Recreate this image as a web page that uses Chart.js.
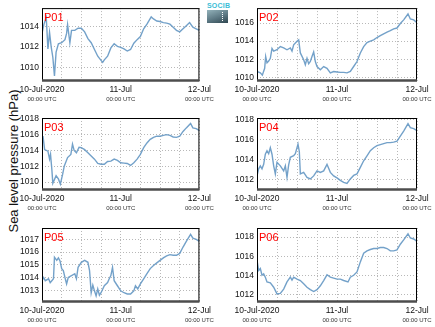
<!DOCTYPE html>
<html>
<head>
<meta charset="utf-8">
<script src="https://cdn.jsdelivr.net/npm/chart.js@4.4.0/dist/chart.umd.min.js"></script>
<style>
  body { margin: 0; background: #fff; }
  #wrap { position: relative; width: 435px; height: 327px; overflow: hidden; font-family: "Liberation Sans", Arial, sans-serif; }
  #wrap canvas { position: absolute; }
  #ylabel { position: absolute; left: 13px; top: 161px; transform: translate(-50%, -50%) rotate(-90deg); font-size: 13px; white-space: nowrap; color: #111; }
  #logo { position: absolute; left: 207px; top: 2px; width: 22px; }
  #logo .brand { font-size: 7px; line-height: 7px; color: #3bbdd6; letter-spacing: 0.2px; font-weight: bold; }
  #logo .badge { position: relative; margin-top: 1px; width: 21px; height: 13px; background: linear-gradient(160deg, #93b2ba 0%, #5c7883 55%, #2f4650 100%); }
  #logo .badge span { position: absolute; left: 15px; top: 2px; height: 9px; border-left: 1px dotted #fff; }
</style>
</head>
<body>
<div id="wrap">
  <div id="ylabel">Sea level pressure (hPa)</div>
  <div id="logo"><div class="brand">SOCIB</div><div class="badge"><span></span></div></div>
</div>
<script>
// hours since 10-Jul-2020 00:00 UTC, sea level pressure (hPa)
const p01 = [[0,1013.3],[0.6,1014.2],[1.3,1014.85],[1.8,1011.8],[2.3,1013.4],[2.8,1012.0],[3.3,1011.0],[3.8,1009.2],[4.3,1011.5],[5,1012.3],[6,1012.4],[7,1012.7],[7.5,1013.3],[7.8,1014.15],[8.5,1012.4],[9,1013.6],[10,1013.6],[11,1013.8],[12,1013.8],[13,1013.45],[14,1012.8],[15,1012.4],[16,1011.75],[17,1011.1],[18,1010.7],[18.5,1010.5],[19,1010.75],[20,1011.1],[21,1011.9],[22,1012.3],[23,1012.05],[24,1011.95],[25,1011.8],[26,1011.6],[27,1011.75],[28,1012.35],[29,1012.7],[30,1013.0],[31,1013.75],[32,1014.2],[33.3,1014.9],[34,1014.7],[35,1014.5],[36,1014.45],[37,1014.35],[38,1014.3],[39,1014.2],[40,1013.9],[41,1013.6],[42,1013.45],[43,1013.75],[44,1014.05],[45,1014.35],[46,1013.9],[47,1013.75],[48,1013.6]];
const p02 = [[0,1010.65],[1,1010.5],[1.6,1010.25],[2.3,1011.0],[2.6,1012.3],[3,1011.6],[3.5,1011.8],[4,1012.1],[4.5,1013.2],[5,1012.9],[6,1013.05],[7,1013.4],[8,1013.25],[9,1013.05],[10,1013.25],[10.5,1012.9],[11,1013.6],[12,1014.0],[12.5,1014.15],[13,1012.7],[14,1011.95],[14.5,1011.4],[15,1012.1],[15.5,1011.5],[16,1011.75],[16.5,1012.3],[17,1012.8],[17.5,1011.75],[18,1011.2],[19,1010.85],[20,1011.2],[21,1011.0],[22,1010.5],[23,1010.65],[24,1010.6],[25,1010.55],[26,1010.55],[27,1010.5],[28,1010.65],[29,1011.2],[30,1011.75],[31,1012.7],[32,1013.4],[33,1013.85],[34,1014.0],[35,1014.15],[36,1014.4],[37,1014.6],[38,1014.8],[39,1015.0],[40,1015.15],[41,1015.35],[42,1015.45],[43,1015.95],[44,1016.35],[45.3,1017.0],[46,1016.45],[47,1016.35],[48,1016.05]];
const p03 = [[0,1015.6],[0.3,1015.8],[0.8,1014.1],[1.8,1013.9],[2.3,1012.9],[2.6,1013.5],[3,1011.6],[3.3,1009.85],[4.3,1010.8],[5,1010.4],[5.6,1009.75],[6.3,1011.0],[6.8,1012.05],[7.8,1013.1],[8.8,1013.5],[9.3,1014.8],[9.8,1014.0],[10.5,1013.7],[11.3,1014.4],[12,1014.35],[13,1014.1],[14,1013.7],[15,1013.3],[16,1012.9],[17,1012.35],[18,1012.25],[19,1012.25],[20,1012.6],[21,1012.65],[22,1012.9],[23,1012.75],[24,1012.45],[25,1012.4],[26,1012.35],[27,1012.1],[28,1012.45],[29,1012.9],[30,1013.5],[31,1014.35],[32,1014.95],[33,1015.4],[34,1015.65],[35,1015.8],[36,1015.8],[37,1015.9],[38,1016.0],[39,1015.9],[40,1015.7],[41,1015.65],[42,1015.8],[43,1016.4],[44,1016.85],[45.3,1017.4],[46,1016.85],[47,1016.75],[48,1016.5]];
const p04 = [[0,1012.4],[0.5,1013.1],[1,1013.4],[1.5,1013.1],[2,1013.55],[2.5,1014.55],[3,1014.9],[3.5,1014.6],[4,1015.2],[4.5,1014.55],[5,1013.4],[5.5,1012.6],[6,1013.75],[7,1013.4],[8,1012.9],[8.5,1013.4],[9,1012.25],[9.5,1013.5],[10,1014.25],[11,1014.4],[11.5,1014.6],[12.3,1015.55],[12.7,1014.8],[13,1012.6],[14,1012.75],[15,1012.25],[16,1012.1],[17,1012.4],[18,1012.9],[19,1012.75],[20,1012.9],[21,1013.55],[22,1012.75],[23,1012.4],[24,1012.2],[25,1011.95],[26,1011.75],[27,1011.65],[28,1012.1],[29,1012.45],[30,1012.6],[31,1013.25],[32,1013.9],[33,1014.4],[34,1014.9],[35,1015.2],[36,1015.4],[37,1015.5],[38,1015.6],[39,1015.7],[40,1015.7],[41,1015.75],[42,1015.85],[43,1016.35],[44,1016.85],[45.3,1017.6],[46,1017.2],[47,1017.1],[48,1016.9]];
const p05 = [[0,1013.75],[0.5,1014.0],[1,1013.75],[2,1013.9],[2.5,1013.6],[3,1013.75],[3.5,1013.9],[3.8,1015.6],[4.5,1015.35],[5,1015.55],[5.5,1015.3],[6,1014.7],[6.5,1014.55],[7,1014.0],[7.5,1013.5],[8,1014.0],[9,1014.15],[10,1014.3],[10.5,1013.9],[11,1014.8],[12,1015.2],[13,1015.35],[14,1015.2],[14.5,1014.55],[15,1012.8],[15.5,1013.4],[16,1012.95],[16.5,1012.55],[17,1013.1],[17.5,1012.6],[18,1012.8],[19,1013.35],[20,1013.6],[20.5,1013.9],[21,1014.15],[21.5,1014.8],[22,1013.75],[23,1013.35],[24,1012.95],[25,1012.8],[26,1012.7],[27,1012.7],[28,1012.95],[28.5,1013.35],[29.2,1013.1],[30,1013.5],[31,1013.9],[32,1014.3],[33,1014.7],[34,1014.95],[35,1015.15],[36,1015.35],[37,1015.55],[38,1015.7],[39,1015.8],[40,1015.75],[41,1015.75],[42,1015.9],[43,1016.4],[44,1016.85],[45.3,1017.4],[46,1017.1],[47,1017.0],[48,1016.85]];
const p06 = [[0,1015.6],[0.5,1014.5],[1,1014.7],[1.5,1014.0],[2,1014.15],[2.5,1013.8],[3,1013.3],[4,1013.2],[5,1012.75],[6,1012.05],[7,1012.1],[8,1012.55],[9,1013.3],[10,1013.8],[10.5,1013.5],[11,1013.8],[12,1013.6],[13,1013.45],[14,1013.1],[15,1012.75],[16,1012.5],[17,1012.3],[18,1012.5],[19,1012.9],[20,1013.45],[21,1014.05],[22,1013.8],[23,1013.7],[24,1013.6],[25,1013.6],[26,1013.45],[27.3,1013.3],[28,1013.8],[29,1014.0],[30,1014.35],[31,1015.4],[32,1016.3],[33,1016.55],[34,1016.7],[35,1016.8],[36,1016.8],[37,1016.9],[38,1016.9],[39,1016.8],[40,1016.55],[41,1016.55],[42,1016.65],[43,1017.25],[44,1017.7],[45.3,1018.35],[46,1017.9],[47,1017.8],[48,1017.55]];

const stations = ['P01', 'P02', 'P03', 'P04', 'P05', 'P06'];
const dayLabels = ['10-Jul-2020', '11-Jul', '12-Jul'];
const dayHours = [0, 24, 48];
const timeLabel = '00:00 UTC';

const FONT = '"Liberation Sans", Arial, sans-serif';

// one entry per panel: data, y range and where the canvas sits on the page
const panels = [
  { data: p01, yMin: 1008.7, yMax: 1015.75, step: 2, left: 0,   top: 0,   w: 215, h: 108, pt: 7,  pb: 14, pr: 13 },
  { data: p02, yMin: 1009.6, yMax: 1017.65, step: 2, left: 215, top: 0,   w: 220, h: 108, pt: 7,  pb: 14, pr: 18 },
  { data: p03, yMin: 1009.0, yMax: 1018.1,  step: 2, left: 0,   top: 108, w: 215, h: 110, pt: 10, pb: 15, pr: 13 },
  { data: p04, yMin: 1011.0, yMax: 1018.15, step: 2, left: 215, top: 108, w: 220, h: 110, pt: 10, pb: 15, pr: 18 },
  { data: p05, yMin: 1012.07, yMax: 1017.9, step: 1, left: 0,   top: 218, w: 215, h: 109, pt: 10, pb: 12, pr: 13 },
  { data: p06, yMin: 1011.2, yMax: 1018.95, step: 2, left: 215, top: 218, w: 220, h: 109, pt: 10, pb: 12, pr: 18 }
];

// black frame, heavier bottom edge, the red station name and the UTC line under the dates
const framePlugin = {
  id: 'frame',
  afterDatasetsDraw(chart, args, opts) {
    const { ctx, chartArea: a } = chart;
    ctx.save();
    ctx.strokeStyle = '#000';
    ctx.lineWidth = 1;
    ctx.strokeRect(a.left + 0.5, a.top + 0.5, a.right - a.left - 1, a.bottom - a.top - 1);
    ctx.strokeStyle = '#4d4d4d';
    ctx.lineWidth = 2.5;
    ctx.beginPath();
    ctx.moveTo(a.left, a.bottom - 0.5);
    ctx.lineTo(a.right, a.bottom - 0.5);
    ctx.stroke();
    ctx.fillStyle = '#ff0000';
    ctx.font = '11px ' + FONT;
    ctx.textBaseline = 'alphabetic';
    ctx.fillText(opts.name, a.left + 2, a.top + 13);

    const xs = chart.scales.x;
    ctx.fillStyle = '#333';
    ctx.font = '6px ' + FONT;
    ctx.textAlign = 'center';
    ctx.textBaseline = 'top';
    dayHours.forEach(h => ctx.fillText(timeLabel, xs.getPixelForValue(h), a.bottom + 15));
    ctx.restore();
  }
};

const wrap = document.getElementById('wrap');

panels.forEach((p, i) => {
  const canvas = document.createElement('canvas');
  canvas.width = p.w;
  canvas.height = p.h;
  canvas.style.left = p.left + 'px';
  canvas.style.top = p.top + 'px';
  wrap.appendChild(canvas);

  new Chart(canvas.getContext('2d'), {
    type: 'line',
    data: {
      datasets: [{
        data: p.data.map(d => ({ x: d[0], y: d[1] })),
        borderColor: 'rgba(108,156,198,0.95)',
        borderWidth: 1.4,
        pointRadius: 0,
        tension: 0,
        fill: false
      }]
    },
    options: {
      responsive: false,
      animation: false,
      events: [],
      layout: { autoPadding: false, padding: { left: 0, top: p.pt, right: p.pr, bottom: p.pb } },
      plugins: {
        legend: { display: false },
        tooltip: { enabled: false },
        frame: { name: stations[i] }
      },
      scales: {
        x: {
          type: 'linear', min: 0, max: 48,
          ticks: {
            stepSize: 6, autoSkip: false, maxRotation: 0, padding: 4,
            color: '#111', font: { family: FONT, size: 8.5 },
            callback: v => (v % 24 === 0 ? dayLabels[dayHours.indexOf(v)] : '')
          },
          grid: { color: '#b8b8b8', drawTicks: false },
          border: { display: false, dash: [1, 2] },
          afterFit: s => { s.height = 13; }
        },
        y: {
          min: p.yMin, max: p.yMax,
          ticks: {
            stepSize: p.step, includeBounds: false, padding: 3,
            color: '#111', font: { family: FONT, size: 8.5 },
            callback: v => String(v)
          },
          grid: { color: '#b8b8b8', drawTicks: false },
          border: { display: false, dash: [1, 2] },
          afterFit: s => { s.width = 42; }
        }
      }
    },
    plugins: [framePlugin]
  });
});
</script>
</body>
</html>
